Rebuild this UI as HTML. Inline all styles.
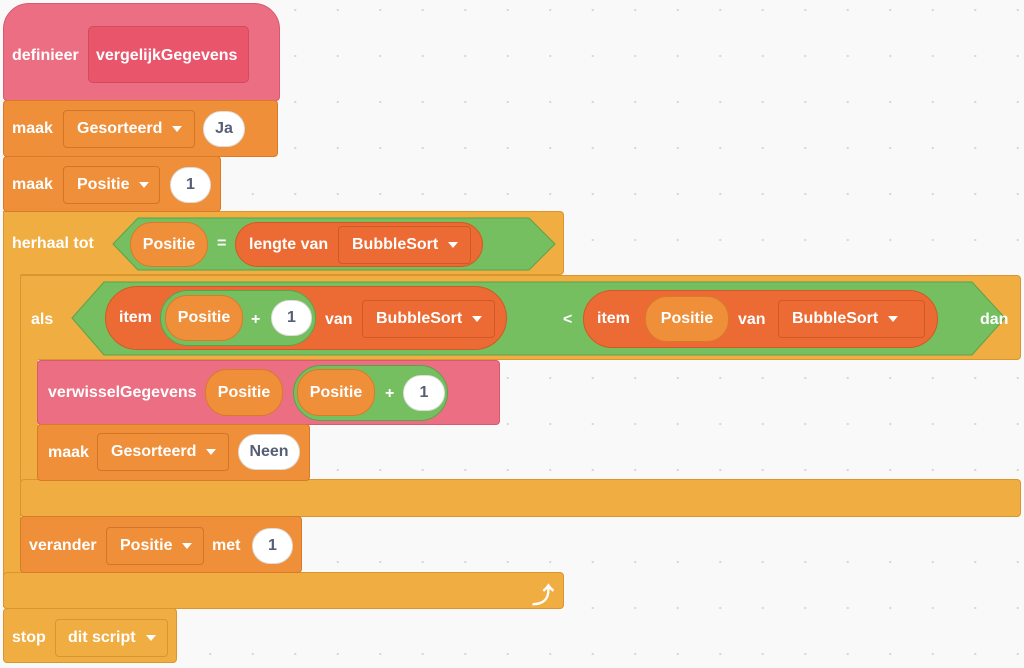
<!DOCTYPE html>
<html><head><meta charset="utf-8"><style>
body{margin:0;width:1024px;height:668px;background:#f9f9f9;position:relative;overflow:hidden;font-family:"Liberation Sans",sans-serif;font-size:16px;font-weight:bold;color:#fff;
background-image:radial-gradient(circle,#d8d8d8 1px,transparent 1.3px);background-size:42.5px 46px;background-position:274px -13px}
div{position:absolute;box-sizing:border-box}
.t{display:flex;align-items:center;white-space:nowrap}
.pk{background:#ec6e82;border:1px solid #d85a6e}
.or{background:#ef8f3a;border:1px solid #d97a28}
.ct{background:#f0ad41;border:1px solid #d9962e}
.gr{background:#76bf61;border:1px solid #5aa24a}
.rd{background:#ec6b34;border:1px solid #d05a26}
.dd{background:#ef8f3a;border:1px solid #d27526;border-radius:4px;padding-left:13px}
.dd2{background:#ec6b34;border:1px solid #cf5a25;border-radius:4px;padding-left:13px}
.ctd{background:#f0ad41;border:1px solid #d9962e;border-radius:4px;padding-left:12px}
.ov{border-radius:22px;justify-content:center}
.wh{background:#fff;color:#575e75;border:1px solid #ddd;border-radius:20px;justify-content:center}
.arr{display:inline-block;width:0;height:0;border-left:5px solid transparent;border-right:5px solid transparent;border-top:6px solid #fff;margin-left:10px}
</style></head><body>

<!-- herhaal C -->
<div class="ct" style="left:3px;top:211px;width:561px;height:64px;border-radius:4px"></div>
<div class="ct" style="left:3px;top:211px;width:18px;height:396px;border-right:none"></div>
<div class="ct" style="left:3px;top:572px;width:561px;height:37px;border-radius:4px"></div>
<div class="t" style="left:532px;top:578px;font-size:22px">⤴</div>
<div class="t" style="left:12px;top:230px;height:28px">herhaal tot</div>

<!-- als C -->
<div class="ct" style="left:20px;top:275px;width:1001px;height:85px;border-radius:4px"></div>
<div class="ct" style="left:20px;top:275px;width:18px;height:241px;border-right:none"></div>
<div class="ct" style="left:20px;top:479px;width:1001px;height:38px;border-radius:4px"></div>
<div class="t" style="left:31px;top:306px;height:28px">als</div>

<!-- define hat -->
<div class="pk" style="left:3px;top:3px;width:277px;height:98px;border-radius:26px 26px 4px 4px"></div>
<div style="left:88px;top:26px;width:161px;height:57px;background:#e9566c;border:1px solid #d24a5f;border-radius:5px"></div>
<div class="t" style="left:12px;top:42px;height:28px">definieer</div>
<div class="t" style="left:96px;top:42px;height:28px">vergelijkGegevens</div>

<!-- maak Gesorteerd Ja -->
<div class="or" style="left:3px;top:100px;width:275px;height:57px;border-radius:4px"></div>
<div class="t" style="left:12px;top:115px;height:28px">maak</div>
<div class="t dd" style="left:63px;top:110px;width:132px;height:38px">Gesorteerd<span class="arr"></span></div>
<div class="t wh" style="left:203px;top:111px;width:42px;height:36px">Ja</div>

<!-- maak Positie 1 -->
<div class="or" style="left:3px;top:156px;width:218px;height:56px;border-radius:4px"></div>
<div class="t" style="left:12px;top:171px;height:28px">maak</div>
<div class="t dd" style="left:63px;top:166px;width:97px;height:38px">Positie<span class="arr"></span></div>
<div class="t wh" style="left:170px;top:167px;width:41px;height:36px">1</div>

<!-- herhaal condition -->
<svg style="position:absolute;left:112px;top:217px" width="444" height="54"><polygon points="26,1 417,1 443,27 417,53 26,53 1,27" fill="#76bf61" stroke="#5aa24a"/></svg>
<div class="t or ov" style="left:130px;top:222px;width:78px;height:45px">Positie</div>
<div class="t" style="left:217px;top:232px;height:24px">=</div>
<div class="t rd" style="left:235px;top:222px;width:248px;height:45px;border-radius:23px;padding-left:13px">lengte van</div>
<div class="t dd2" style="left:338px;top:226px;width:133px;height:38px">BubbleSort<span class="arr"></span></div>

<!-- als condition -->
<svg style="position:absolute;left:71px;top:281px" width="935" height="75"><polygon points="33,1 901,1 934,37 901,74 33,74 1,37" fill="#76bf61" stroke="#5aa24a"/></svg>
<div class="t rd" style="left:105px;top:286px;width:402px;height:64px;border-radius:32px;padding-left:13px">item</div>
<div class="gr" style="left:160px;top:290px;width:156px;height:56px;border-radius:28px"></div>
<div class="t or ov" style="left:165px;top:295px;width:78px;height:46px">Positie</div>
<div class="t" style="left:251px;top:306px;height:28px">+</div>
<div class="t wh" style="left:271px;top:300px;width:41px;height:36px">1</div>
<div class="t" style="left:325px;top:306px;height:28px">van</div>
<div class="t dd2" style="left:362px;top:300px;width:133px;height:38px">BubbleSort<span class="arr"></span></div>
<div class="t" style="left:563px;top:306px;height:28px">&lt;</div>
<div class="t rd" style="left:583px;top:290px;width:355px;height:58px;border-radius:29px;padding-left:13px">item</div>
<div class="t or ov" style="left:645px;top:296px;width:84px;height:46px">Positie</div>
<div class="t" style="left:738px;top:306px;height:28px">van</div>
<div class="t dd2" style="left:778px;top:300px;width:147px;height:38px">BubbleSort<span class="arr"></span></div>
<div class="t" style="left:980px;top:306px;height:28px">dan</div>

<!-- verwisselGegevens -->
<div class="pk" style="left:37px;top:360px;width:463px;height:65px;border-radius:4px"></div>
<div class="t" style="left:48px;top:379px;height:28px">verwisselGegevens</div>
<div class="t or ov" style="left:205px;top:369px;width:78px;height:47px">Positie</div>
<div class="gr" style="left:293px;top:365px;width:155px;height:56px;border-radius:28px"></div>
<div class="t or ov" style="left:297px;top:369px;width:78px;height:47px">Positie</div>
<div class="t" style="left:385px;top:380px;height:28px">+</div>
<div class="t wh" style="left:403px;top:375px;width:42px;height:36px">1</div>

<!-- maak Gesorteerd Neen -->
<div class="or" style="left:37px;top:424px;width:273px;height:57px;border-radius:4px"></div>
<div class="t" style="left:48px;top:439px;height:28px">maak</div>
<div class="t dd" style="left:97px;top:433px;width:132px;height:38px">Gesorteerd<span class="arr"></span></div>
<div class="t wh" style="left:238px;top:434px;width:62px;height:36px">Neen</div>

<!-- verander -->
<div class="or" style="left:20px;top:516px;width:282px;height:57px;border-radius:4px"></div>
<div class="t" style="left:29px;top:532px;height:28px">verander</div>
<div class="t dd" style="left:106px;top:527px;width:98px;height:38px">Positie<span class="arr"></span></div>
<div class="t" style="left:212px;top:532px;height:28px">met</div>
<div class="t wh" style="left:252px;top:528px;width:41px;height:36px">1</div>

<!-- stop -->
<div class="ct" style="left:3px;top:608px;width:174px;height:55px;border-radius:4px"></div>
<div class="t" style="left:12px;top:624px;height:28px">stop</div>
<div class="t ctd" style="left:55px;top:619px;width:113px;height:38px">dit script<span class="arr"></span></div>

</body></html>
